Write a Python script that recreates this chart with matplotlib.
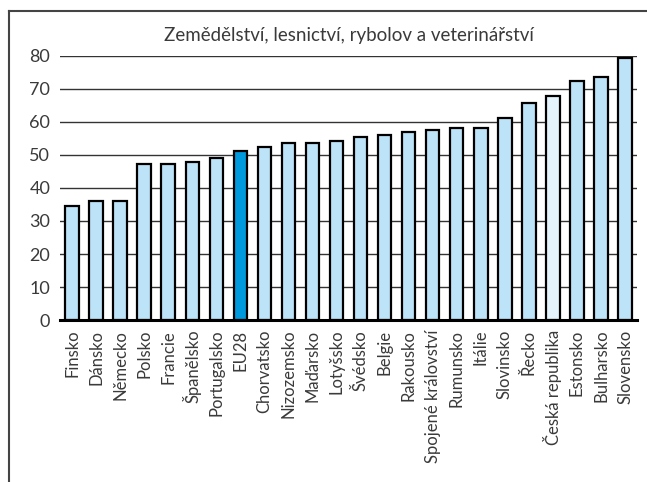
import matplotlib.pyplot as plt
from matplotlib.lines import Line2D

# Countries, sorted by value
countries = ['Finsko', 'Dánsko', 'Německo', 'Polsko', 'Francie', 'Španělsko',
             'Portugalsko', 'EU28', 'Chorvatsko', 'Nizozemsko', 'Maďarsko',
             'Lotyšsko', 'Švédsko', 'Belgie', 'Rakousko', 'Spojené království',
             'Rumunsko', 'Itálie', 'Slovinsko', 'Řecko', 'Česká republika',
             'Estonsko', 'Bulharsko', 'Slovensko']
values = [34.6, 36.2, 36.2, 47.3, 47.3, 47.8, 49.0, 51.2, 52.4, 53.5, 53.5,
          54.2, 55.4, 56.0, 57.0, 57.6, 58.2, 58.2, 61.1, 65.7, 68.0, 72.5,
          73.5, 79.3]
yticks = [0, 10, 20, 30, 40, 50, 60, 70, 80]
title = 'Zemědělství, lesnictví, rybolov a veterinářství'

plt.rcParams['font.family'] = ['Lato', 'DejaVu Sans']
text_color = '#3a3a3a'

colors = []
for c in countries:
    if c == 'EU28':
        colors.append('#0099dd')
    elif c == 'Česká republika':
        colors.append('#e4f3fc')
    else:
        colors.append('#bde3f8')

fig = plt.figure(figsize=(6.47, 4.82), dpi=100)
ax = fig.add_axes([0.0927, 0.336, 0.892, 0.548])

x = list(range(len(countries)))
ax.bar(x, values, width=0.56, color=colors, edgecolor='black', linewidth=1.6, zorder=3)

ax.set_xlim(-0.5, len(countries) - 0.5)
ax.set_ylim(0, 80)
ax.set_yticks(yticks)
ax.set_yticklabels([str(t) for t in yticks], fontsize=13, color=text_color)
ax.set_xticks(x)
ax.set_xticklabels(countries, rotation=90, fontsize=12, color=text_color,
                   va='top', ha='center')
ax.tick_params(axis='both', length=0)
ax.tick_params(axis='y', pad=7)
ax.tick_params(axis='x', pad=7)

ax.grid(axis='y', color='#333333', linewidth=1.0, zorder=0)
ax.set_axisbelow(True)
for s in ['top', 'right', 'left']:
    ax.spines[s].set_visible(False)
ax.spines['bottom'].set_linewidth(2.2)
ax.spines['bottom'].set_color('black')
ax.spines['bottom'].set_zorder(4)

ax.set_title(title, fontsize=13.5, color=text_color, pad=11)

# outer frame (top and left edge)
fig.add_artist(Line2D([9 / 647, 1.0], [1 - 11 / 482, 1 - 11 / 482],
                      transform=fig.transFigure, color='#444444', linewidth=1.5))
fig.add_artist(Line2D([9 / 647, 9 / 647], [0, 1 - 11 / 482],
                      transform=fig.transFigure, color='#444444', linewidth=1.5))

fig.savefig('out.png', dpi=100)
